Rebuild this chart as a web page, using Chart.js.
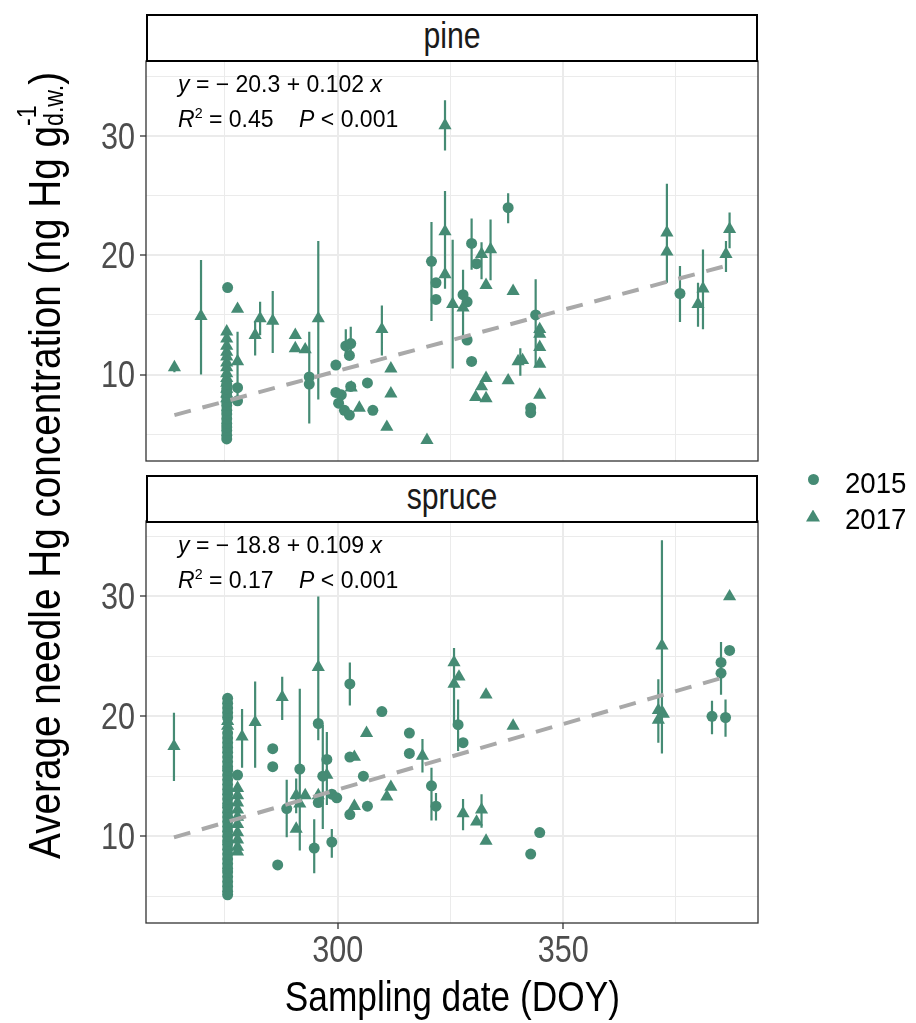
<!DOCTYPE html>
<html>
<head>
<meta charset="utf-8">
<title>Average needle Hg concentration vs sampling date</title>
<script src="https://cdn.jsdelivr.net/npm/chart.js@4.4.1/dist/chart.umd.min.js"></script>
<style>
  body { margin: 0; background: #fff; }
  #page { position: relative; width: 916px; height: 1023px; overflow: hidden;
          font-family: 'Liberation Sans', Arial, sans-serif; }
  canvas { position: absolute; left: 0; }
  #c1 { top: 0; }
  #c2 { top: 475px; }
  .cond { display: inline-block; transform: scaleX(0.84); white-space: nowrap; }
  .strip { position: absolute; left: 146px; width: 612px; height: 48px; box-sizing: border-box;
           border: 2.5px solid #000; background: #fff; text-align: center;
           font-size: 36px; line-height: 40px; color: #1a1a1a; }
  .eq { position: absolute; left: 178px; font-size: 23px; line-height: 1; color: #000; white-space: nowrap; }
  .eq sup { font-size: 0.62em; vertical-align: 0.6em; line-height: 0; }
  #ytitle { position: absolute; left: -405px; top: 448px; width: 900px; height: 50px; line-height: 50px;
            text-align: center; transform: rotate(-90deg); font-size: 45px; color: #000; white-space: nowrap; }
  #ytitle .cond { transform: scaleX(0.86); }
  #xtitle { position: absolute; left: 152px; top: 975px; width: 600px; text-align: center;
            font-size: 43px; line-height: 43px; color: #000; }
  #xtitle .cond { transform: scaleX(0.82); }
  .stk { display: inline-block; width: 0; white-space: nowrap; }
  .sp { font-size: 0.6em; position: relative; top: -0.9em; }
  .sb { font-size: 0.6em; position: relative; top: 0.1em; }
  .lg { position: absolute; background: #458b74; }
  .lgtxt { position: absolute; left: 845px; font-size: 30px; line-height: 30px; color: #000; }
  .lgtxt .cond { transform: scaleX(0.92); transform-origin: left center; }
</style>
</head>
<body>
<div id="page">
  <canvas id="c1" width="916" height="475"></canvas>
  <canvas id="c2" width="916" height="548"></canvas>

  <div class="strip" style="top:14px"><span class="cond">pine</span></div>
  <div class="strip" style="top:475px"><span class="cond">spruce</span></div>

  <div class="eq" style="top:73px"><i>y</i> = − 20.3 + 0.102 <i>x</i></div>
  <div class="eq" style="top:108px"><i>R</i><sup>2</sup> = 0.45&nbsp;&nbsp;&nbsp;&nbsp;<i>P</i> &lt; 0.001</div>
  <div class="eq" style="top:534px"><i>y</i> = − 18.8 + 0.109 <i>x</i></div>
  <div class="eq" style="top:569px"><i>R</i><sup>2</sup> = 0.17&nbsp;&nbsp;&nbsp;&nbsp;<i>P</i> &lt; 0.001</div>

  <div id="ytitle"><span class="cond">Average needle Hg concentration (ng Hg g<span class="stk"><span class="sp">-1</span></span><span class="sb">d.w.</span>)</span></div>
  <div id="xtitle"><span class="cond">Sampling date (DOY)</span></div>

  <div class="lg" style="left:807.5px;top:473.5px;width:11px;height:11px;border-radius:50%"></div>
  <div class="lg" style="left:806px;top:509.5px;width:14px;height:12px;clip-path:polygon(50% 0,100% 100%,0 100%)"></div>
  <div class="lgtxt" style="top:468px"><span class="cond" id="lg1"></span></div>
  <div class="lgtxt" style="top:504px"><span class="cond" id="lg2"></span></div>
</div>
<script>
// ---- data ----
var years = ['2015', '2017'];
var xTickLabels = [300, 350];
var yTickLabels = [10, 20, 30];

// pine, 2015 (circles)
var pineX15 = [275.4, 275.4, 275.4, 275.4, 275.4, 275.4, 275.4, 275.4, 275.4, 275.4, 275.4, 275.4, 275.4, 275.4,
    275.6, 277.8, 277.8, 293.7, 293.7, 299.6, 299.6, 300.8, 301.8, 302.9, 302.6, 300.2, 301.5, 302.6, 302.9,
    306.6, 307.8, 320.8, 321.8, 321.8, 329.7, 330.8, 327.8, 328.7, 328.7, 329.7, 337.8, 343.9, 342.8, 342.8, 375.9];
var pineY15 = [4.6, 4.9, 5.3, 5.6, 5.9, 6.3, 6.7, 7.0, 7.4, 7.7, 8.1, 8.5, 8.8, 9.2,
    17.3, 8.9, 7.8, 9.8, 9.2, 10.8, 8.5, 8.3, 12.4, 12.6, 11.6, 7.6, 7.0, 6.6, 9.0,
    9.3, 7.0, 19.5, 17.7, 16.3, 21.0, 19.3, 16.7, 16.1, 12.9, 11.1, 24.0, 15.0, 7.2, 6.8, 16.8];

// pine, 2017 (triangles)
var pineX17 = [263.8, 269.7, 275.4, 275.4, 275.4, 275.4, 275.4, 275.4, 275.4, 275.4, 275.4, 275.4, 275.4, 275.4, 275.4,
    277.8, 277.8, 281.7, 282.8, 285.6, 290.6, 290.6, 292.8, 295.7, 303.0, 304.8, 309.8, 311.8, 311.8, 310.9, 319.8,
    323.8, 323.8, 323.8, 325.5, 327.8, 331.9, 333.9, 332.9, 338.9, 332.9, 331.9, 330.6, 332.9, 337.8, 340.0, 341.0,
    344.8, 344.8, 344.8, 344.8, 344.8, 373.0, 373.0, 379.9, 381.0, 386.1, 386.9];
var pineY17 = [10.6, 14.9, 13.6, 13.0, 12.4, 11.9, 11.5, 11.0, 10.6, 10.1, 9.7, 9.3, 8.8, 8.4, 8.0,
    15.5, 11.1, 13.3, 14.7, 14.5, 13.3, 12.2, 12.1, 14.7, 8.9, 7.2, 13.8, 10.5, 8.4, 5.6, 4.5,
    30.9, 22.0, 18.4, 15.9, 15.6, 20.1, 20.5, 17.5, 17.0, 9.7, 9.0, 8.1, 8.0, 9.5, 11.1, 11.2,
    13.8, 13.4, 12.3, 10.9, 8.3, 21.9, 20.3, 15.9, 17.2, 20.1, 22.2];

// pine error bars (both years)
var pineBarX  = [293.7, 301.8, 302.9, 320.8, 329.7, 327.8, 337.8, 343.9, 375.9,
    263.8, 269.7, 277.8, 281.7, 282.8, 285.6, 295.7, 309.8, 323.8, 323.8, 325.5, 331.9, 333.9, 340.5, 373.0, 379.9, 381.0, 386.1, 386.9];
var pineBarLo = [5.9, 11.8, 11.9, 14.5, 18.8, 12.7, 22.7, 10.6, 14.4,
    10.2, 10.0, 8.0, 11.6, 13.3, 11.8, 7.9, 11.6, 28.8, 17.2, 10.5, 18.0, 17.9, 9.9, 17.7, 14.0, 13.8, 18.6, 20.6];
var pineBarHi = [13.6, 13.8, 14.0, 22.8, 23.1, 18.8, 25.2, 18.0, 19.1,
    10.8, 19.6, 13.6, 14.5, 16.1, 17.0, 21.2, 15.8, 33.0, 25.4, 21.3, 21.1, 23.0, 12.2, 26.0, 17.7, 20.5, 21.2, 23.6];

// pine fitted line end points
var pineFitX = [263.8, 386.9];
var pineFitY = [6.6, 19.2];

// spruce, 2015 (circles)
var spruceX15 = [275.6, 275.6, 275.6, 275.6, 275.6, 275.6, 275.6, 275.6, 275.6, 275.6, 275.6, 275.6, 275.6, 275.6,
    275.6, 275.6, 275.6, 275.6, 275.6, 275.6, 275.6, 275.6, 275.6, 275.6, 275.6, 275.6, 275.6, 275.6,
    275.6, 275.6, 275.6, 275.6, 275.6, 275.6, 275.6, 275.6, 275.6, 275.6, 275.6, 275.6, 275.6,
    277.8, 285.6, 285.6, 286.7, 288.7, 291.6, 294.8, 295.7, 295.7, 296.7, 297.6, 298.7, 299.8, 298.7,
    302.7, 302.7, 302.7, 305.7, 306.6, 309.8, 315.9, 315.9, 320.8, 321.8, 326.7, 327.8, 342.8, 344.8,
    383.0, 385.0, 385.0, 386.0, 386.9];
var spruceY15 = [5.1, 5.4, 5.8, 6.2, 6.6, 7.0, 7.3, 7.7, 8.1, 8.5, 8.9, 9.3, 9.6, 10.0,
    10.4, 10.8, 11.2, 11.6, 12.0, 12.4, 12.7, 13.1, 13.5, 13.9, 14.3, 14.7, 15.1, 15.5,
    15.8, 16.2, 16.6, 17.0, 17.4, 17.8, 18.2, 18.6, 19.9, 20.3, 20.7, 21.1, 21.5,
    15.1, 17.3, 15.8, 7.6, 12.3, 15.6, 9.0, 19.4, 12.8, 15.0, 16.4, 13.5, 13.2, 9.5,
    22.7, 16.6, 11.8, 15.0, 12.5, 20.4, 18.6, 16.9, 14.2, 12.5, 19.3, 17.8, 8.5, 10.3,
    20.0, 24.5, 23.6, 19.9, 25.5];

// spruce, 2017 (triangles)
var spruceX17 = [263.7, 275.6, 275.6, 277.8, 277.8, 277.8, 277.8, 277.8, 277.8, 277.8, 277.8, 277.8, 277.8,
    278.8, 281.7, 287.7, 290.8, 291.6, 292.8, 290.8, 295.7, 295.7, 297.6, 303.7, 303.7, 306.4, 311.8, 310.9,
    318.8, 325.8, 326.9, 325.8, 332.9, 338.9, 327.8, 330.8, 331.9, 332.9, 371.9, 371.1, 372.2, 371.1, 386.9];
var spruceY17 = [17.5, 19.6, 19.2, 14.0, 13.4, 12.8, 12.2, 11.6, 11.0, 10.3, 9.7, 9.1, 8.7,
    18.3, 19.5, 21.6, 13.4, 12.7, 13.4, 10.6, 24.1, 13.4, 15.1, 16.6, 12.5, 18.6, 14.1, 13.3,
    16.7, 24.5, 23.3, 22.7, 21.8, 19.2, 11.9, 11.2, 12.2, 9.6, 25.9, 20.5, 20.2, 19.7, 30.0];

// spruce error bars (both years)
var spruceBarX  = [263.7, 278.8, 281.7, 287.7, 288.7, 290.8, 291.6, 294.8, 295.7, 296.7, 297.6, 298.7, 302.7,
    318.8, 320.8, 321.8, 325.8, 326.7, 327.8, 331.9, 371.9, 371.1, 383.0, 385.0, 386.0];
var spruceBarLo = [14.6, 15.7, 15.7, 19.7, 9.9, 11.9, 8.8, 6.9, 18.0, 10.6, 12.6, 8.2, 20.9,
    15.3, 11.3, 11.3, 19.1, 17.1, 10.5, 10.7, 16.9, 17.8, 18.5, 21.8, 18.3];
var spruceBarHi = [20.3, 20.6, 22.9, 23.3, 14.7, 14.8, 22.3, 11.4, 30.0, 19.3, 18.7, 10.6, 24.5,
    18.1, 15.7, 13.6, 25.7, 21.4, 13.1, 13.5, 34.7, 23.1, 21.3, 26.2, 21.4];

// spruce fitted line end points
var spruceFitX = [263.7, 386.9];
var spruceFitY = [9.9, 23.4];

// axes
var xMin = 257.5, xMax = 393.2;
var yMin = 2.75, yMax = 36.3;

// ---- drawing ----
var GREEN = '#458b74';

document.getElementById('lg1').textContent = years[0];
document.getElementById('lg2').textContent = years[1];

function pts(xs, ys){
    return xs.map(function(x, i){ return {x: x, y: ys[i]}; });
}

function bars(xs, lo, hi){
    var d = [];
    for (var i = 0; i < xs.length; i++){
        d.push({x: xs[i], y: lo[i]});
        d.push({x: xs[i], y: hi[i]});
        d.push({x: xs[i], y: null});
    }
    return d;
}

function isMajor(ctx, step){
    return ctx.tick && Math.abs(ctx.tick.value % step) < 1e-6;
}

// grey frame round the plot area
var panelBorder = {
    id: 'panelBorder',
    afterDraw: function(chart){
        var a = chart.chartArea;
        var c = chart.ctx;
        c.save();
        c.strokeStyle = '#333333';
        c.lineWidth = 1.3;
        c.strokeRect(a.left, a.top, a.right - a.left, a.bottom - a.top);
        c.restore();
    }
};

// tick labels, a bit condensed like the original font
function condText(c, text, x, y, align){
    c.save();
    c.translate(x, y);
    c.scale(0.85, 1);
    c.textAlign = align;
    c.fillText(text, 0, 0);
    c.restore();
}

var tickText = {
    id: 'tickText',
    afterDraw: function(chart){
        var c = chart.ctx;
        var a = chart.chartArea;
        c.save();
        c.fillStyle = '#4d4d4d';
        c.font = '36px "Liberation Sans", Arial, sans-serif';
        c.textBaseline = 'alphabetic';
        yTickLabels.forEach(function(v){
            condText(c, String(v), 135, chart.scales.y.getPixelForValue(v) + 12.9, 'right');
        });
        if (chart.options.plugins.tickText.bottom){
            xTickLabels.forEach(function(v){
                condText(c, String(v), chart.scales.x.getPixelForValue(v), a.bottom + 39, 'center');
            });
        }
        c.restore();
    }
};

function makePanel(id, padding, bottomAxis, x15, y15, x17, y17, bx, blo, bhi, fx, fy){
    var xScale = {
        type: 'linear', min: xMin, max: xMax,
        afterFit: function(s){ s.height = bottomAxis ? 100 : 0; },
        ticks: {
            display: bottomAxis, stepSize: 25, includeBounds: false, autoSkip: false, maxRotation: 0,
            callback: function(){ return ''; }
        },
        grid: {
            color: '#ebebeb', drawTicks: bottomAxis, tickLength: 6, tickWidth: 1.3,
            lineWidth: function(ctx){ return isMajor(ctx, 50) ? 2 : 1; },
            tickColor: function(ctx){ return isMajor(ctx, 50) ? '#333333' : 'rgba(0,0,0,0)'; }
        },
        border: {display: false}
    };
    var yScale = {
        type: 'linear', min: yMin, max: yMax,
        afterFit: function(s){ s.width = 146; },
        ticks: {
            stepSize: 5, includeBounds: false, autoSkip: false,
            callback: function(){ return ''; }
        },
        grid: {
            color: '#ebebeb', drawTicks: true, tickLength: 6, tickWidth: 1.3,
            lineWidth: function(ctx){ return isMajor(ctx, 10) ? 2 : 1; },
            tickColor: function(ctx){ return isMajor(ctx, 10) ? '#333333' : 'rgba(0,0,0,0)'; }
        },
        border: {display: false}
    };

    return new Chart(document.getElementById(id), {
        type: 'scatter',
        data: {
            datasets: [
                {type: 'line', data: pts(fx, fy), borderColor: '#a9a9a9', borderWidth: 4,
                 borderDash: [17, 12], borderCapStyle: 'butt', pointRadius: 0, fill: false},
                {label: years[0], data: pts(x15, y15), pointStyle: 'circle', pointRadius: 5.5,
                 pointBackgroundColor: GREEN, pointBorderWidth: 0, pointBorderColor: GREEN},
                {label: years[1], data: pts(x17, y17), pointStyle: 'triangle', pointRadius: 7.6,
                 pointBackgroundColor: GREEN, pointBorderWidth: 0, pointBorderColor: GREEN},
                {type: 'line', data: bars(bx, blo, bhi), borderColor: GREEN, borderWidth: 2.2,
                 pointRadius: 0, spanGaps: false, fill: false}
            ]
        },
        options: {
            responsive: false,
            animation: false,
            devicePixelRatio: 1,
            layout: {padding: padding, autoPadding: false},
            plugins: {legend: {display: false}, tooltip: {enabled: false}, tickText: {bottom: bottomAxis}},
            scales: {x: xScale, y: yScale}
        },
        plugins: [panelBorder, tickText]
    });
}

makePanel('c1', {top: 61, right: 158, bottom: 14, left: 0}, false,
    pineX15, pineY15, pineX17, pineY17, pineBarX, pineBarLo, pineBarHi, pineFitX, pineFitY);
makePanel('c2', {top: 46, right: 158, bottom: 0, left: 0}, true,
    spruceX15, spruceY15, spruceX17, spruceY17, spruceBarX, spruceBarLo, spruceBarHi, spruceFitX, spruceFitY);
</script>
</body>
</html>
